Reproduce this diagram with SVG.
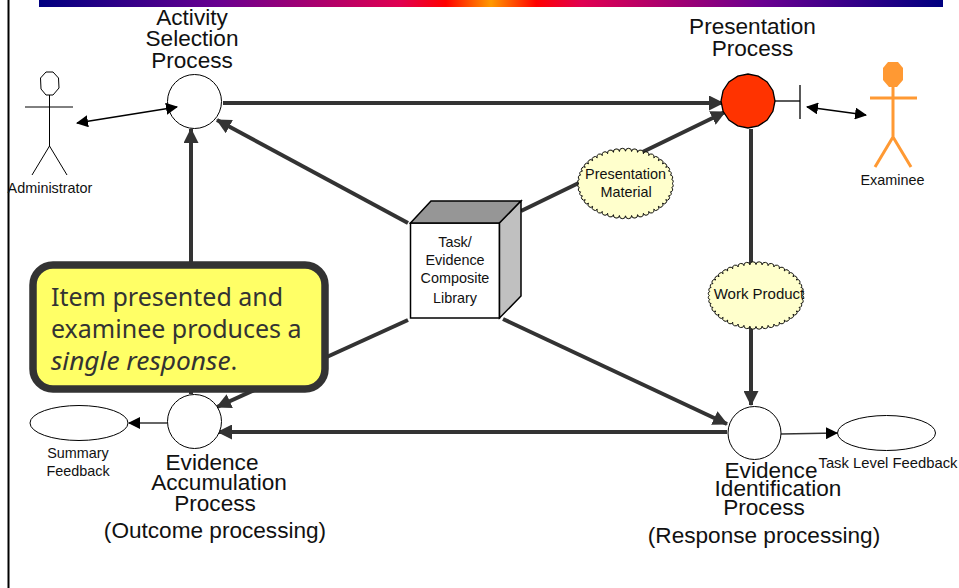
<svg xmlns="http://www.w3.org/2000/svg" width="959" height="588" viewBox="0 0 959 588">
<style>
text{font-family:"Liberation Sans",Arial,sans-serif;fill:#111;text-anchor:middle}
.big{font-size:22.6px}
.small{font-size:14.4px}
.thick{stroke:#333;stroke-width:4;fill:none}
.thin{stroke:#000;stroke-width:1.300;fill:none}
.conn{marker-end:url(#big)}
.both{marker-start:url(#smallS);marker-end:url(#small)}
.proc{fill:#fff;stroke:#000;stroke-width:1}
.cloud{fill:#ffffcc;stroke:#000;stroke-width:1}
.oval{fill:#fff;stroke:#000;stroke-width:1}
.call{font-family:"Noto Sans","DejaVu Sans",sans-serif;font-size:25px;fill:#333;text-anchor:start}
</style>
<defs>
<linearGradient id="bar" x1="0" x2="1" y1="0" y2="0">
<stop offset="0" stop-color="#000080"/><stop offset="0.2" stop-color="#6a0090"/><stop offset="0.4" stop-color="#e00050"/><stop offset="0.45" stop-color="#ff0000"/><stop offset="0.5" stop-color="#ff9900"/><stop offset="0.55" stop-color="#ff0000"/><stop offset="0.6" stop-color="#e00050"/><stop offset="0.8" stop-color="#6a0090"/><stop offset="1" stop-color="#000080"/>
</linearGradient>
<marker id="big" viewBox="0 0 15 15" markerUnits="userSpaceOnUse" markerWidth="15" markerHeight="15" refX="14" refY="7.500" orient="auto"><path d="M0 0L15 7.500L0 15z" fill="#333"/></marker>
<marker id="small" viewBox="0 0 12 12" markerUnits="userSpaceOnUse" markerWidth="12" markerHeight="12" refX="11" refY="6" orient="auto"><path d="M0 0L12 6L0 12z" fill="#000"/></marker>
<marker id="smallS" viewBox="0 0 12 12" markerUnits="userSpaceOnUse" markerWidth="12" markerHeight="12" refX="1" refY="6" orient="auto"><path d="M12 0L0 6L12 12z" fill="#000"/></marker>
<path id="cloudshape" d="M49 0a2.400 2.400 0 0 1 -.4 4.400a2.400 2.400 0 0 1 -1.300 4.400a2.400 2.400 0 0 1 -2 4.200a2.400 2.400 0 0 1 -2.900 4a2.400 2.400 0 0 1 -3.500 3.700a2.400 2.400 0 0 1 -4.300 3.300a2.400 2.400 0 0 1 -4.800 3a2.400 2.400 0 0 1 -5.300 2.400a2.400 2.400 0 0 1 -5.700 2a2.400 2.400 0 0 1 -6.100 1.400a2.400 2.400 0 0 1 -6.300 .9a2.400 2.400 0 0 1 -6.400 .3a2.400 2.400 0 0 1 -6.400 -.3a2.400 2.400 0 0 1 -6.300 -.9a2.400 2.400 0 0 1 -6.100 -1.400a2.400 2.400 0 0 1 -5.700 -2a2.400 2.400 0 0 1 -5.300 -2.400a2.400 2.400 0 0 1 -4.800 -3a2.400 2.400 0 0 1 -4.300 -3.300a2.400 2.400 0 0 1 -3.500 -3.700a2.400 2.400 0 0 1 -2.900 -4a2.400 2.400 0 0 1 -2 -4.200a2.400 2.400 0 0 1 -1.300 -4.400a2.400 2.400 0 0 1 -.4 -4.400a2.400 2.400 0 0 1 .4 -4.400a2.400 2.400 0 0 1 1.300 -4.400a2.400 2.400 0 0 1 2 -4.200a2.400 2.400 0 0 1 2.900 -4a2.400 2.400 0 0 1 3.500 -3.700a2.400 2.400 0 0 1 4.300 -3.300a2.400 2.400 0 0 1 4.800 -3a2.400 2.400 0 0 1 5.300 -2.400a2.400 2.400 0 0 1 5.700 -2a2.400 2.400 0 0 1 6.100 -1.400a2.400 2.400 0 0 1 6.300 -.9a2.400 2.400 0 0 1 6.400 -.3a2.400 2.400 0 0 1 6.400 .3a2.400 2.400 0 0 1 6.300 .9a2.400 2.400 0 0 1 6.100 1.400a2.400 2.400 0 0 1 5.700 2a2.400 2.400 0 0 1 5.300 2.400a2.400 2.400 0 0 1 4.800 3a2.400 2.400 0 0 1 4.300 3.300a2.400 2.400 0 0 1 3.500 3.700a2.400 2.400 0 0 1 2.900 4a2.400 2.400 0 0 1 2 4.200a2.400 2.400 0 0 1 1.300 4.400a2.400 2.400 0 0 1 .4 4.400z"/>
</defs>
<rect x="39" y="0" width="904" height="7" fill="url(#bar)"/>
<line x1="8.500" y1="0" x2="8.500" y2="588" stroke="#000" stroke-width="2"/>
<g id="connectors">
<line class="thick conn" x1="223" y1="103" x2="723" y2="103"/>
<line class="thick conn" x1="408" y1="223" x2="217" y2="120"/>
<line class="thick conn" x1="191" y1="394" x2="191" y2="129"/>
<line class="thick conn" x1="521" y1="211" x2="725" y2="112"/>
<line class="thick conn" x1="751" y1="129" x2="751" y2="405"/>
<line class="thick conn" x1="503" y1="319" x2="727" y2="424"/>
<line class="thick conn" x1="408" y1="320" x2="217" y2="407"/>
<line class="thick conn" x1="727" y1="432" x2="218" y2="432"/>
<line x1="167" y1="423" x2="129" y2="423" stroke="#333" stroke-width="1.300" marker-end="url(#small)"/>
<line x1="781" y1="434" x2="837" y2="433" stroke="#333" stroke-width="1.300" marker-end="url(#small)"/>
<line class="thin" x1="774" y1="101" x2="800" y2="101"/>
<line class="thin" x1="800" y1="85" x2="800" y2="119"/>
</g>
<g id="administrator">
<polygon points="46,72 53,72 58.500,78 59,88 53,95 46,95 41,89 40.500,78" fill="#fff" stroke="#000" stroke-width="1"/>
<path d="M49.500 95V146M25 107H73M49.500 146L32 175M49.500 146L67 175" fill="none" stroke="#000" stroke-width="1"/>
<text class="small" x="50" y="193">Administrator</text>
</g>
<g id="activity-selection">
<circle class="proc" cx="194.500" cy="101.500" r="27"/>
<text class="big" x="192" y="25">Activity</text>
<text class="big" x="192" y="46">Selection</text>
<text class="big" x="192" y="68">Process</text>
</g>
<g id="presentation-process">
<polygon transform="translate(-1.500 -1)" points="776.500,102 774.400,112.300 768.600,121.100 759.800,126.900 749.500,129 739.200,126.900 730.400,121.100 724.600,112.300 722.500,102 724.600,91.700 730.400,82.900 739.200,77.100 749.500,75 759.800,77.100 768.600,82.900 774.400,91.700" fill="#ff3300" stroke="#000" stroke-width="1.300"/>
<text class="big" x="752.500" y="34">Presentation</text>
<text class="big" x="752.500" y="56">Process</text>
</g>
<g id="examinee">
<polygon points="888,62 898,62 903,68 903,80 897,87 889,87 883,80 883,68" fill="#ff9933"/>
<path d="M893 86V137M870 98H917M893 137L875 167M893 137L911 167" fill="none" stroke="#ff9933" stroke-width="3"/>
<text class="small" x="892.500" y="185">Examinee</text>
</g>
<g id="presentation-material">
<use href="#cloudshape" class="cloud" transform="translate(625.500 183.500) scale(.95)"/>
<text class="small" x="625.500" y="179">Presentation</text>
<text class="small" x="626" y="197">Material</text>
</g>
<g id="work-product">
<use href="#cloudshape" class="cloud" transform="translate(756 295.500) scale(.95 .91)"/>
<text x="759" y="299" style="font-size:15px">Work Product</text>
</g>
<g id="library">
<rect x="410.500" y="223" width="89" height="95" fill="#fff" stroke="#000" stroke-width="1.500"/>
<path d="M410.500 223L431 201H521L499.500 223z" fill="#969696" stroke="#000" stroke-width="1.500"/>
<path d="M499.500 223L521 201V296L499.500 318z" fill="#c0c0c0" stroke="#000" stroke-width="1.500"/>
<text class="small" x="455" y="247">Task/</text>
<text class="small" x="455" y="265">Evidence</text>
<text class="small" x="455" y="283">Composite</text>
<text class="small" x="455" y="303">Library</text>
</g>
<g id="callout">
<rect x="33" y="265" width="292" height="124" rx="20" fill="#ffff66" stroke="#333" stroke-width="7.500"/>
<text class="call" x="51" y="306">Item presented and</text>
<text class="call" x="51" y="338">examinee produces a</text>
<text class="call" x="51" y="370"><tspan font-style="italic" font-size="26.300">single response</tspan>.</text>
</g>
<g id="evidence-accumulation">
<circle class="proc" cx="194.500" cy="421.500" r="27"/>
<text class="big" x="212" y="470">Evidence</text>
<text class="big" x="219" y="490">Accumulation</text>
<text class="big" x="215" y="511">Process</text>
<text class="big" x="215" y="538">(Outcome processing)</text>
</g>
<g id="summary-feedback">
<ellipse class="oval" cx="79" cy="423" rx="49" ry="17.500"/>
<text class="small" x="78" y="458">Summary</text>
<text class="small" x="78" y="476">Feedback</text>
</g>
<g id="evidence-identification">
<circle class="proc" cx="754.500" cy="433" r="26.500"/>
<text class="big" x="771" y="478">Evidence</text>
<text class="big" x="778" y="496">Identification</text>
<text class="big" x="764" y="515">Process</text>
<text class="big" x="764" y="543">(Response processing)</text>
</g>
<g id="task-feedback">
<ellipse class="oval" cx="886.500" cy="433" rx="49" ry="17.500"/>
<text x="888" y="468" style="font-size:14.800px">Task Level Feedback</text>
</g>
<g id="connectors-bidirectional">
<line class="thin both" x1="77" y1="123" x2="177" y2="107"/>
<line class="thin both" x1="807" y1="107" x2="866" y2="115"/>
</g>
</svg>
